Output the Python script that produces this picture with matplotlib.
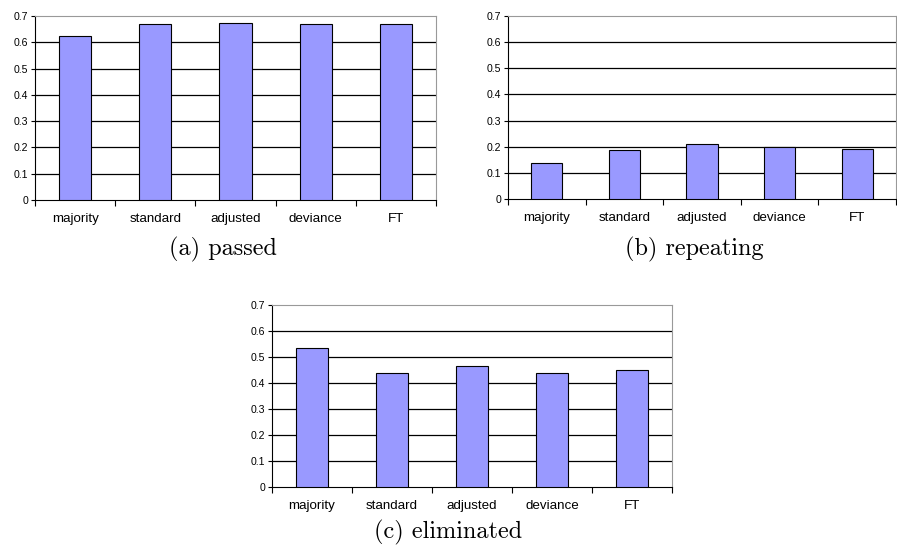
import matplotlib
matplotlib.use("Agg")
import matplotlib.pyplot as plt
from matplotlib.transforms import blended_transform_factory, offset_copy

categories = ["majority", "standard", "adjusted", "deviance", "FT"]
passed = [0.623, 0.669, 0.672, 0.668, 0.671]
repeating = [0.138, 0.186, 0.212, 0.198, 0.191]
eliminated = [0.533, 0.438, 0.466, 0.439, 0.449]
yticks = [0, 0.1, 0.2, 0.3, 0.4, 0.5, 0.6, 0.7]
ytick_labels = ["0", "0.1", "0.2", "0.3", "0.4", "0.5", "0.6", "0.7"]

W, H = 897, 552
fig = plt.figure(figsize=(W / 100, H / 100), dpi=100)


def panel(box, values, caption, cap_xy):
    l, t, r, b = box
    ax = fig.add_axes([l / W, (H - b) / H, (r - l) / W, (b - t) / H])
    x = range(len(categories))
    ax.bar(x, values, width=0.4, color="#9999FF", edgecolor="black",
           linewidth=0.8, zorder=3)
    ax.set_xlim(-0.5, len(categories) - 0.5)
    ax.set_ylim(0, 0.7)
    for y in yticks[1:-1]:
        ax.axhline(y, color="black", linewidth=0.9, zorder=1)
    ax.set_yticks(yticks)
    ax.set_yticklabels(ytick_labels, fontsize=7.6, family="Liberation Sans")
    ax.set_xticks([i - 0.5 for i in range(len(categories) + 1)])
    ax.set_xticklabels([])
    # category names on a common baseline
    tr = blended_transform_factory(ax.transData, ax.transAxes)
    tr = offset_copy(tr, fig=fig, y=-22, units="dots")
    for i, name in enumerate(categories):
        ax.text(i, 0, name, transform=tr, ha="center", va="baseline",
                fontsize=9.6, family="Liberation Sans")
    ax.tick_params(axis="x", which="major", length=4, width=0.8)
    ax.tick_params(axis="y", length=3, width=0.8, pad=2)
    ax.spines["left"].set_color("black")
    ax.spines["bottom"].set_color("black")
    ax.spines["top"].set_color("#999999")
    ax.spines["right"].set_color("#999999")
    for s in ax.spines.values():
        s.set_linewidth(0.8)
    fig.text(cap_xy[0] / W, 1 - cap_xy[1] / H, caption, family="cmr10",
             fontsize=17.5, ha="center", va="center")
    return ax


panel((35, 16, 436, 200), passed, "(a) passed", (223, 249))
panel((508, 16, 896, 199), repeating, "(b) repeating", (694, 249))
panel((272, 305, 672, 487), eliminated, "(c) eliminated", (448, 532))

fig.savefig("out.png", dpi=100)
